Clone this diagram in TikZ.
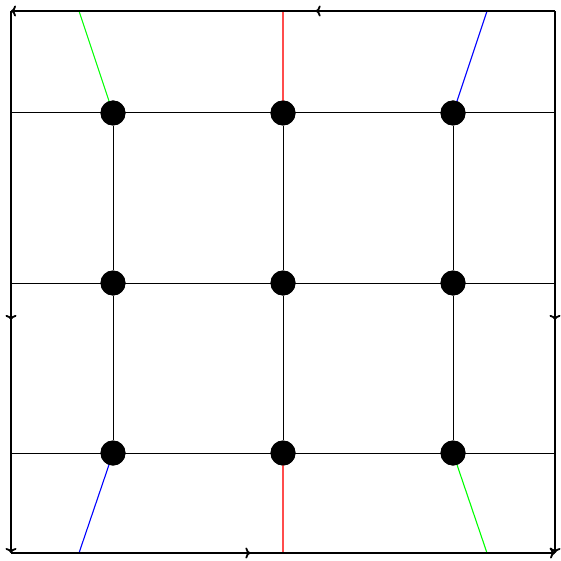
\documentclass[tikz,border=0pt]{standalone}
\usetikzlibrary{decorations.markings,arrows.meta}
\begin{document}
\begin{tikzpicture}[x=1pt,y=-1pt,
  >={To[length=5pt,width=11pt]},
  edgeline/.style={line width=1.8pt,black},
  gridline/.style={line width=1pt,black},
  colline/.style={line width=1.1pt},
  dot/.style={circle,fill=black,inner sep=0pt,minimum size=25pt},
  midarrow/.style={postaction={decorate,decoration={markings,mark=at position #1 with {\arrow{>}}}}}
]
\useasboundingbox (0,0) rectangle (561,561);
% corners
\coordinate (TL) at (11,11);
\coordinate (TR) at (555,11);
\coordinate (BL) at (11,553);
\coordinate (BR) at (555,553);
% grid lines (behind dots)
\foreach \y/\n in {113/1,283/2,453/3}{
  \coordinate (L\n) at (11,\y);
  \coordinate (R\n) at (555,\y);
  \draw[gridline] (L\n) -- (R\n);
}
% dots
\foreach \x/\i in {113/1,283/2,453/3}{
  \foreach \y/\j in {113/1,283/2,453/3}{
    \node[dot] (d\i\j) at (\x,\y) {};
  }
}
\foreach \i in {1,2,3}{
  \draw[gridline] (d\i1) -- (d\i2);
  \draw[gridline] (d\i2) -- (d\i3);
}
% boundary coordinates for coloured lines
\coordinate (Tg) at (79,11);
\coordinate (Tr) at (283,11);
\coordinate (Tb) at (487,11);
\coordinate (Bb) at (79,553);
\coordinate (Br) at (283,553);
\coordinate (Bg) at (487,553);
\draw[colline,green] (Tg) -- (d11.center);
\draw[colline,green] (d33.center) -- (Bg);
\draw[colline,blue] (Tb) -- (d31.center);
\draw[colline,blue] (d13.center) -- (Bb);
\draw[colline,red!70] (Tr) -- (d21.center);
\draw[colline,red!70] (d23.center) -- (Br);
% redraw dots on top
\foreach \i/\x in {1/113,2/283,3/453}{
  \foreach \j/\y in {1/113,2/283,3/453}{
    \fill (d\i\j.center) circle (12.5pt);
  }
}
% border edges
\draw[edgeline,->,midarrow=0.44] (TR) -- (TL);
\draw[edgeline,->,midarrow=0.44] (BL) -- (BR);
\draw[edgeline,->,midarrow=0.57] (TL) -- (BL);
\draw[edgeline,->,midarrow=0.57] (TR) -- (BR);
\end{tikzpicture}
\end{document}
